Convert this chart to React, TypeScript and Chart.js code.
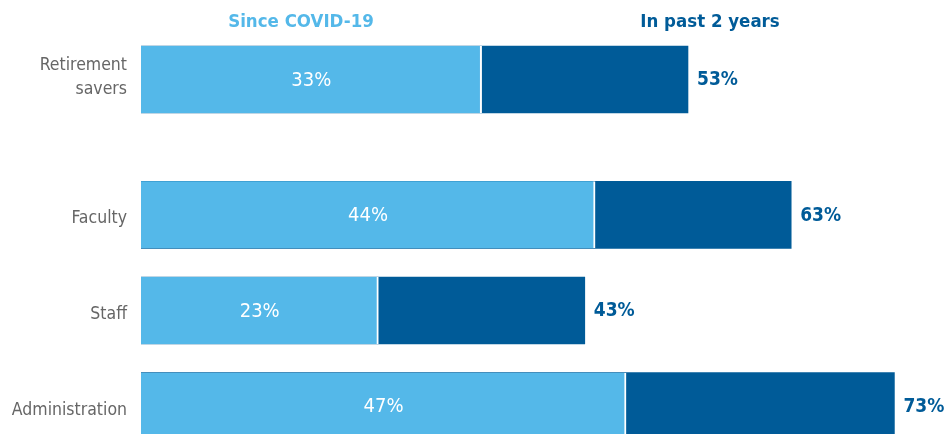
import React, { useEffect, useRef } from "react";
import { Chart, registerables } from "chart.js";

Chart.register(...registerables);

// ---- data ----
const seriesNames = ["Since COVID-19", "In past 2 years"];
const topCategories = [["Retirement", "savers"]];
const topSinceCovid = [33];
const topPastTwoYears = [53];
const mainCategories = ["Faculty", "Staff", "Administration"];
const mainSinceCovid = [44, 23, 47];
const mainPastTwoYears = [63, 43, 73];

// ---- styles ----
const LIGHT = "#54B8E9";
const DARK = "#005B98";
const GREY = "#666666";
const FONT = "'DejaVu Sans Condensed', 'Liberation Sans Narrow', sans-serif";

const labelPlugin = {
  id: "barLabels",
  afterDatasetsDraw(chart: any) {
    const ctx = chart.ctx;
    ctx.save();
    ctx.textBaseline = "middle";
    const m0 = chart.getDatasetMeta(0);
    const m1 = chart.getDatasetMeta(1);
    const d0 = chart.data.datasets[0].data;
    const d1 = chart.data.datasets[1].data;
    ctx.font = `20px ${FONT}`;
    ctx.fillStyle = "#ffffff";
    ctx.textAlign = "center";
    m0.data.forEach((bar: any, i: number) => {
      const p = bar.getProps(["x", "y", "base"], true);
      ctx.fillText(`${d0[i]}%`, (p.x + p.base) / 2, p.y + 1);
    });
    ctx.font = `bold 19px ${FONT}`;
    ctx.fillStyle = DARK;
    ctx.textAlign = "left";
    m1.data.forEach((bar: any, i: number) => {
      const p = bar.getProps(["x", "y"], true);
      ctx.fillText(`${d1[i]}%`, p.x + 9, p.y + 1);
    });
    ctx.restore();
  },
};

function makeConfig(labels: any[], since: number[], past: number[], padTop: number, labelShift: number) {
  return {
    type: "bar" as const,
    data: {
      labels,
      datasets: [
        {
          label: seriesNames[0],
          data: since,
          backgroundColor: LIGHT,
          borderColor: "#ffffff",
          borderWidth: { top: 0, bottom: 0, left: 0, right: 2 },
          borderSkipped: false,
          barThickness: 67,
        },
        {
          label: seriesNames[1],
          data: past,
          backgroundColor: DARK,
          borderWidth: 0,
          barThickness: 67,
        },
      ],
    },
    options: {
      indexAxis: "y" as const,
      animation: false as const,
      responsive: false,
      layout: { padding: { top: padTop, right: 3, bottom: 0, left: 0 } },
      plugins: { legend: { display: false }, tooltip: { enabled: false } },
      scales: {
        x: { display: false, min: 0, max: 78, stacked: false },
        y: {
          stacked: true,
          grid: { display: false, drawTicks: false },
          border: { display: false },
          afterFit: (s: any) => {
            s.width = 141;
            s.paddingTop = 0;
            s.paddingBottom = 0;
          },
          ticks: {
            padding: 14,
            labelOffset: labelShift,
            color: GREY,
            font: { family: FONT, size: 17.5, lineHeight: 1.4 },
          },
        },
      },
    },
    plugins: [labelPlugin],
  };
}

export default function App() {
  const topRef = useRef<HTMLCanvasElement>(null);
  const mainRef = useRef<HTMLCanvasElement>(null);

  useEffect(() => {
    const c1 = new Chart(topRef.current!, makeConfig(topCategories, topSinceCovid, topPastTwoYears, 12, -2) as any);
    const c2 = new Chart(mainRef.current!, makeConfig(mainCategories, mainSinceCovid, mainPastTwoYears, 20, 4) as any);
    return () => {
      c1.destroy();
      c2.destroy();
    };
  }, []);

  const header: React.CSSProperties = {
    position: "absolute",
    top: 12,
    transform: "translateX(-50%)",
    fontFamily: FONT,
    fontWeight: "bold",
    fontSize: 18.5,
    lineHeight: 1,
    whiteSpace: "nowrap",
  };

  return (
    <div style={{ position: "absolute", left: 0, top: 0, width: 949, height: 434, overflow: "hidden", background: "#fff" }}>
      <canvas ref={topRef} width={949} height={147} style={{ position: "absolute", left: 0, top: 0 }} />
      <canvas ref={mainRef} width={949} height={307} style={{ position: "absolute", left: 0, top: 147 }} />
      <div style={{ ...header, left: 301, color: LIGHT }}>{seriesNames[0]}</div>
      <div style={{ ...header, left: 710, color: DARK }}>{seriesNames[1]}</div>
    </div>
  );
}
